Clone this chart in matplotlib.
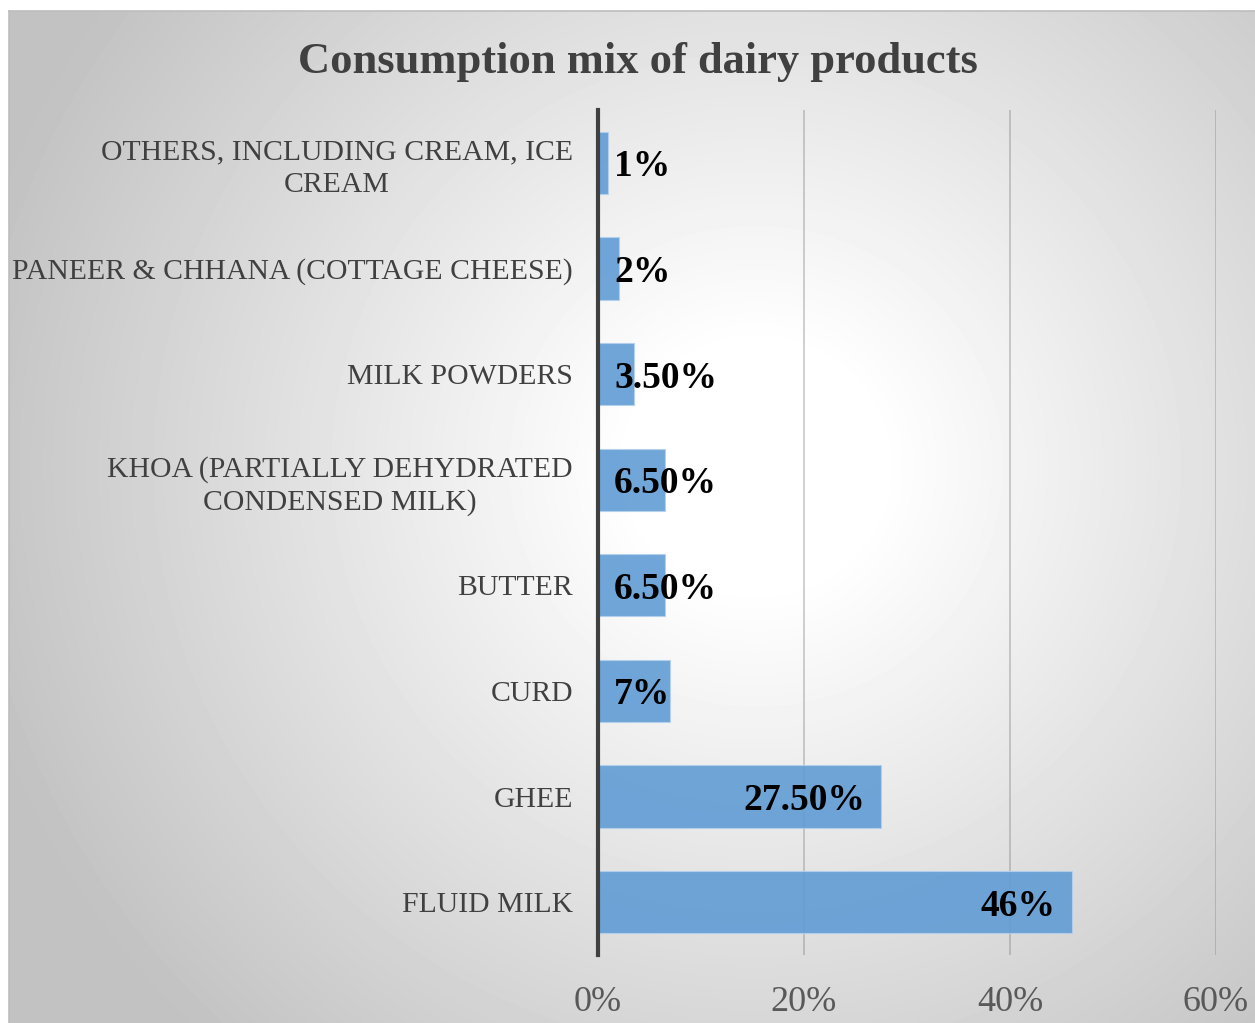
import matplotlib.pyplot as plt
import numpy as np

# consumption share by product, bottom bar first
categories = [
    "FLUID MILK",
    "GHEE",
    "CURD",
    "BUTTER",
    "KHOA (PARTIALLY DEHYDRATED\nCONDENSED MILK)",
    "MILK POWDERS",
    "PANEER & CHHANA (COTTAGE CHEESE)",
    "OTHERS, INCLUDING CREAM, ICE\nCREAM",
]
shares = [46.0, 27.5, 7.0, 6.5, 6.5, 3.5, 2.0, 1.0]
share_labels = ["46%", "27.50%", "7%", "6.50%", "6.50%", "3.50%", "2%", "1%"]
x_ticks = [0, 20, 40, 60]
x_tick_labels = ["0%", "20%", "40%", "60%"]

SERIF = ["Liberation Serif", "DejaVu Serif"]
W, H = 1255, 1023

fig = plt.figure(figsize=(W / 100, H / 100), dpi=100)
fig.patch.set_facecolor("white")

# radial grey-to-white backdrop behind the whole chart area
bg = fig.add_axes([9 / W, 0, 1 - 9 / W, 1 - 11 / H], zorder=-5)
gx, gy = np.meshgrid(np.linspace(0, 1, 400), np.linspace(0, 1, 330))
cx, cy = 0.60, 0.45
r = np.hypot((gx - cx) * 1.2, gy - cy)
t = np.clip((r - 0.12) / (0.78 - 0.12), 0, 1)
shade = 1.0 - 0.24 * t
bg.imshow(shade, cmap="gray", vmin=0, vmax=1, aspect="auto",
          extent=(0, 1, 0, 1), origin="upper", interpolation="bilinear")
bg.set_xticks([])
bg.set_yticks([])
for side in ["right", "bottom"]:
    bg.spines[side].set_visible(False)
for side in ["top", "left"]:
    bg.spines[side].set_color("#bdbdbd")
    bg.spines[side].set_linewidth(1.2)

ax = fig.add_axes([598 / W, 1 - 955 / H, 618 / W, 845 / H])
ax.set_facecolor("none")

y = np.arange(len(categories))
ax.barh(y, shares, height=0.59, color="#609cd4", alpha=0.9,
        edgecolor="#b4d0ec", linewidth=0.8, zorder=2)

ax.set_xlim(0, 60)
ax.set_ylim(-0.5, len(categories) - 0.5)
ax.set_xticks(x_ticks)
ax.set_xticklabels(x_tick_labels, family=SERIF, fontsize=26, color="#595959")
ax.set_yticks(y)
ax.set_yticklabels(categories, family=SERIF, fontsize=21.4, color="#404040",
                   linespacing=1.3)
for lbl in ax.get_yticklabels():
    lbl.set_multialignment("center")
ax.tick_params(axis="both", length=0)
ax.tick_params(axis="y", pad=18)
ax.tick_params(axis="x", pad=22)

ax.grid(axis="x", color="#7a7a7a", alpha=0.45, linewidth=1.1, zorder=1)
ax.set_axisbelow(True)
for side in ["top", "right", "bottom"]:
    ax.spines[side].set_visible(False)
ax.spines["left"].set_color("#404040")
ax.spines["left"].set_linewidth(3)
ax.spines["left"].set_zorder(4)

# value labels: inside the bar end, pushed past the axis for short bars
for yi, v, txt in zip(y, shares, share_labels):
    if v < 10:
        ax.text(1.55, yi, txt, ha="left", va="center_baseline", family=SERIF,
                fontsize=27, fontweight="bold", color="black", zorder=5)
    else:
        ax.text(v - 1.6, yi, txt, ha="right", va="center_baseline", family=SERIF,
                fontsize=27, fontweight="bold", color="black", zorder=5)

fig.text(638 / W, 1 - 62 / H, "Consumption mix of dairy products",
         ha="center", va="center", family=SERIF, fontsize=32,
         fontweight="bold", color="#404040")

fig.savefig("out.png", dpi=100)
